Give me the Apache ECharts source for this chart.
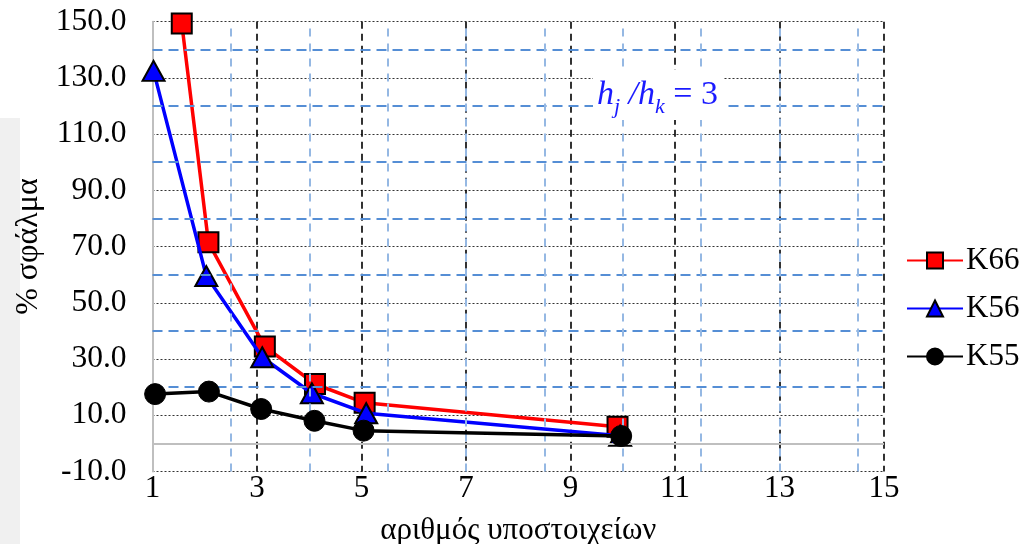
<!DOCTYPE html>
<html>
<head>
<meta charset="utf-8">
<script src="https://cdn.jsdelivr.net/npm/echarts@6/dist/echarts.min.js"></script>
<style>html,body{margin:0;padding:0;background:#fff;}#c{width:1019px;height:544px;}</style>
</head>
<body>
<div id="c"></div>
<script>
// ---- data ----
const seriesNames = ['K66', 'K56', 'K55'];
const k66X = [1.56, 2.07, 3.15, 4.11, 5.06, 9.90];
const k66Y = [149.4, 71.5, 34.4, 21.1, 14.4, 5.9];
const k56X = [1.02, 2.03, 3.10, 4.05, 5.09, 9.95];
const k56Y = [132.5, 59.5, 30.6, 17.8, 10.7, 2.7];
const k55X = [1.05, 2.08, 3.08, 4.10, 5.04, 9.97];
const k55Y = [17.5, 18.4, 12.2, 8.0, 4.5, 2.6];
const xMin = 1, xMax = 15, xStep = 2, xMinorStep = 1.5;
const yMin = -10, yMax = 150, yStep = 20;
const yMinorStart = 20, yMinorEnd = 140;
const xTitle = 'αριθμός υποστοιχείων';
const yTitle = '% σφάλμα';

const FONT = 'Liberation Serif';
function pairs(xs, ys) { return xs.map((x, i) => [x, ys[i]]); }

// minor (blue) grid positions
const minorV = [];
for (let v = xMin + xMinorStep; v < xMax; v += xMinorStep) minorV.push({ xAxis: +v.toFixed(2) });
const minorH = [];
for (let v = yMinorStart; v <= yMinorEnd; v += yStep) minorH.push({ yAxis: v });

const chart = echarts.init(document.getElementById('c'), null, { renderer: 'canvas' });
chart.setOption({
  animation: false,
  backgroundColor: '#ffffff',
  grid: { left: 152.5, right: 135, top: 21.7, bottom: 72.6, containLabel: false, outerBoundsMode: 'none' },
  xAxis: {
    type: 'value', min: xMin, max: xMax, interval: xStep, z: 2,
    axisLine: { show: false }, axisTick: { show: false },
    axisLabel: { fontFamily: FONT, fontSize: 31, color: '#000', margin: 2 },
    splitLine: { show: true, showMinLine: false, lineStyle: { color: '#000', width: 1.6, type: [7, 5] } },
    name: xTitle, nameLocation: 'middle', nameGap: 44,
    nameTextStyle: { fontFamily: FONT, fontSize: 31, color: '#000' }
  },
  yAxis: {
    type: 'value', min: yMin, max: yMax, interval: yStep, z: 2,
    axisLine: { show: true, lineStyle: { color: '#bfbfbf', width: 2 } },
    axisTick: { show: false },
    axisLabel: { fontFamily: FONT, fontSize: 31.5, color: '#000', margin: 26, formatter: v => v.toFixed(1) },
    splitLine: { show: true, lineStyle: { color: '#333', width: 1, type: [2, 2] } },
    name: yTitle, nameLocation: 'middle', nameGap: 108, nameRotate: 90,
    nameTextStyle: { fontFamily: FONT, fontSize: 32, color: '#000' }
  },
  legend: {
    data: seriesNames, orient: 'vertical', left: 901, top: 240,
    itemWidth: 56, itemHeight: 20, itemGap: 17,
    textStyle: { fontFamily: FONT, fontSize: 31, color: '#000', padding: [0, 0, 0, -2] }
  },
  graphic: [
    { type: 'rect', left: 0, top: 118, shape: { width: 20, height: 426 }, style: { fill: '#f0f0f0' }, z: -1 },
    {
      type: 'text', left: 593, top: 70, z: 10,
      style: {
        text: '{i|h}{s|j}{i| /h}{s|k}{n| = 3}',
        backgroundColor: '#fff', padding: [2, 5, 2, 4],
        rich: {
          i: { fontFamily: FONT, fontStyle: 'italic', fontSize: 34, fill: '#1a1aff', lineHeight: 46, verticalAlign: 'middle' },
          s: { fontFamily: FONT, fontStyle: 'italic', fontSize: 22, fill: '#1a1aff', lineHeight: 46, verticalAlign: 'bottom' },
          n: { fontFamily: FONT, fontSize: 34, fill: '#1a1aff', lineHeight: 46, verticalAlign: 'middle' }
        }
      }
    }
  ],
  series: [
    {
      name: 'minorGrid', type: 'line', data: [], z: 1, silent: true,
      markLine: {
        silent: true, symbol: 'none', label: { show: false }, animation: false,
        lineStyle: { color: '#558ed5', width: 2, type: [10, 6] },
        data: minorH
      }
    },
    {
      name: 'minorGridV', type: 'line', data: [], z: 1, silent: true,
      markLine: {
        silent: true, symbol: 'none', label: { show: false }, animation: false,
        lineStyle: { color: '#95b8e3', width: 2, type: [8, 7] },
        data: minorV
      }
    },
    {
      name: 'zeroLine', type: 'line', data: [], z: 2, silent: true,
      markLine: {
        silent: true, symbol: 'none', label: { show: false }, animation: false,
        lineStyle: { color: '#bfbfbf', width: 2, type: 'solid' },
        data: [{ yAxis: 0 }]
      }
    },
    {
      name: 'K66', type: 'line', data: pairs(k66X, k66Y), z: 3,
      symbol: 'rect', symbolSize: 20,
      lineStyle: { color: '#ff0000', width: 3.5 },
      itemStyle: { color: '#ff0000', borderColor: '#000', borderWidth: 2 }
    },
    {
      name: 'K56', type: 'line', data: pairs(k56X, k56Y), z: 4,
      symbol: 'triangle', symbolSize: [22, 20],
      lineStyle: { color: '#0000ff', width: 3.5 },
      itemStyle: { color: '#0000ff', borderColor: '#000', borderWidth: 2 }
    },
    {
      name: 'K55', type: 'line', data: pairs(k55X, k55Y), z: 5,
      symbol: 'circle', symbolSize: 21,
      lineStyle: { color: '#000', width: 3.5 },
      itemStyle: { color: '#000', borderColor: '#000', borderWidth: 1 }
    }
  ]
});
</script>
</body>
</html>
